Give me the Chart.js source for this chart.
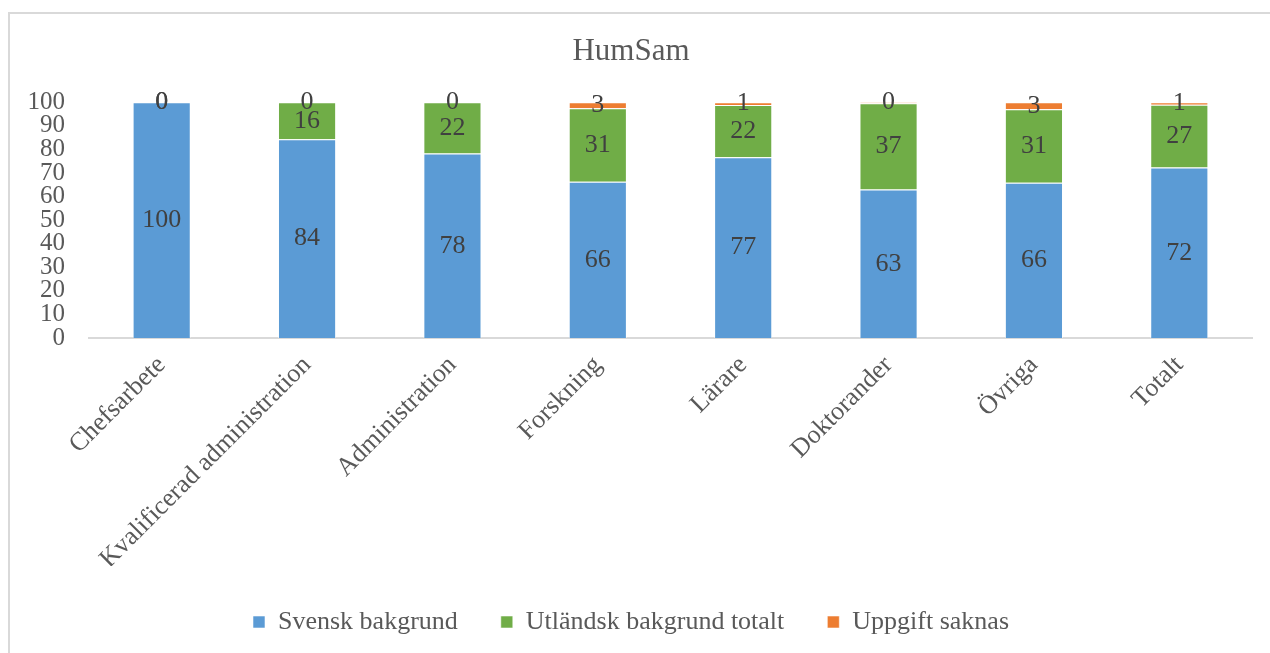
<!DOCTYPE html>
<html>
<head>
<meta charset="utf-8">
<script src="https://cdn.jsdelivr.net/npm/chart.js@4/dist/chart.umd.min.js"></script>
<style>
  html, body { margin: 0; padding: 0; background: #fff; overflow: hidden; }
  #frame {
    position: absolute; left: 8px; top: 12px;
    width: 1270px; height: 660px;
    border-left: 2px solid #d9d9d9; border-top: 2px solid #d9d9d9;
  }
  #wrap { position: absolute; left: 0; top: 0; width: 1260px; height: 639px; }
</style>
</head>
<body>
<div id="frame"><div id="wrap"><canvas id="chart"></canvas></div></div>
<script>
// categories and series (percent)
const categories = ['Chefsarbete', 'Kvalificerad administration', 'Administration', 'Forskning', 'Lärare', 'Doktorander', 'Övriga', 'Totalt'];
const svensk = [100, 84.3, 78.2, 66.3, 76.7, 63.0, 65.8, 72.3];
const utlandsk = [0, 15.7, 21.8, 31.1, 22.1, 36.6, 31.2, 26.6];
const saknas = [0, 0, 0, 2.6, 1.2, 0.4, 3.0, 1.1];
const yTicks = [0, 10, 20, 30, 40, 50, 60, 70, 80, 90, 100];

const serif = "'Liberation Serif', 'Times New Roman', serif";
Chart.defaults.font.family = serif;
Chart.defaults.color = '#595959';

// draws rounded value in the middle of every bar segment
const barLabels = {
  id: 'barLabels',
  afterDatasetsDraw(chart) {
    const ctx = chart.ctx;
    ctx.save();
    ctx.font = '26px ' + serif;
    ctx.fillStyle = '#404040';
    ctx.textAlign = 'center';
    ctx.textBaseline = 'middle';
    chart.data.datasets.forEach(function(ds, i) {
      const meta = chart.getDatasetMeta(i);
      meta.data.forEach(function(bar, j) {
        const p = bar.getCenterPoint();
        ctx.fillText(String(Math.round(ds.data[j])), p.x, p.y);
      });
    });
    ctx.restore();
  }
};

new Chart(document.getElementById('chart'), {
  type: 'bar',
  data: {
    labels: categories,
    datasets: [
      { label: 'Svensk bakgrund', data: svensk, backgroundColor: '#5B9BD5' },
      { label: 'Utländsk bakgrund totalt', data: utlandsk, backgroundColor: '#70AD47' },
      { label: 'Uppgift saknas', data: saknas, backgroundColor: '#ED7D31' }
    ].map(function(d) {
      return Object.assign(d, { borderColor: 'rgba(255,255,255,0.55)', borderWidth: 1, barPercentage: 0.4, categoryPercentage: 1 });
    })
  },
  options: {
    responsive: true,
    maintainAspectRatio: false,
    animation: false,
    layout: { padding: { left: 0, right: 18, top: 0, bottom: 8 } },
    scales: {
      x: {
        stacked: true,
        grid: { display: false },
        border: { display: true, color: '#d9d9d9', width: 2 },
        ticks: { font: { size: 26 }, color: '#595959', minRotation: 45, maxRotation: 45, autoSkip: false, padding: 4 },
        afterFit: function(scale) { scale.height = 228; }
      },
      y: {
        stacked: true,
        min: 0,
        max: 100,
        afterBuildTicks: function(scale) { scale.ticks = yTicks.map(function(v) { return { value: v }; }); },
        grid: { display: false, drawTicks: false },
        border: { display: false },
        ticks: { font: { size: 25 }, color: '#595959', autoSkip: false, padding: 24 },
        afterFit: function(scale) { scale.width = 79; }
      }
    },
    plugins: {
      title: {
        display: true,
        text: 'HumSam',
        color: '#595959',
        font: { size: 31, weight: 'normal' },
        padding: { top: 19, bottom: 32 }
      },
      legend: {
        position: 'bottom',
        labels: { boxWidth: 12, boxHeight: 12, padding: 43, font: { size: 26 }, color: '#595959' }
      },
      tooltip: { enabled: false }
    }
  },
  plugins: [barLabels]
});
</script>
</body>
</html>
